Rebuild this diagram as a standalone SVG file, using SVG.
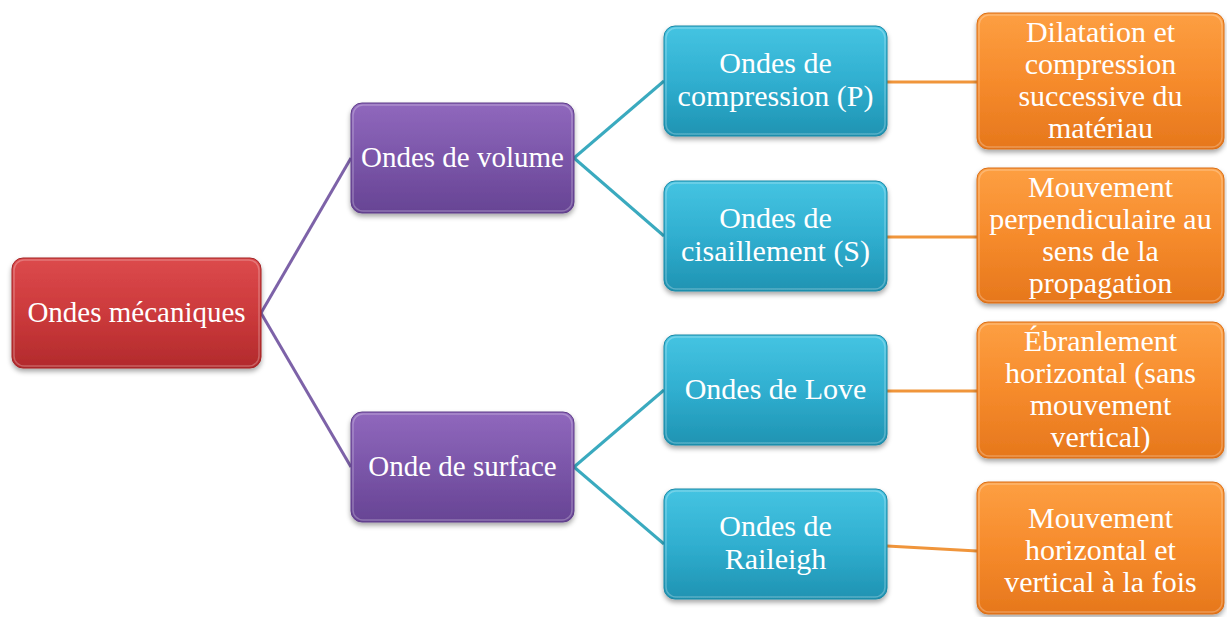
<svg xmlns="http://www.w3.org/2000/svg" width="1227" height="617" viewBox="0 0 1227 617">
<defs>
<linearGradient id="gRed" x1="0" y1="0" x2="0" y2="1"><stop offset="0" stop-color="#dc4a4c"/><stop offset="0.5" stop-color="#cc3a3c"/><stop offset="1" stop-color="#b22a2c"/></linearGradient>
<linearGradient id="gPur" x1="0" y1="0" x2="0" y2="1"><stop offset="0" stop-color="#9068bd"/><stop offset="0.5" stop-color="#7b56a9"/><stop offset="1" stop-color="#674494"/></linearGradient>
<linearGradient id="gCya" x1="0" y1="0" x2="0" y2="1"><stop offset="0" stop-color="#45c4e2"/><stop offset="0.5" stop-color="#30afd0"/><stop offset="1" stop-color="#1f93b2"/></linearGradient>
<linearGradient id="gOra" x1="0" y1="0" x2="0" y2="1"><stop offset="0" stop-color="#fd9f42"/><stop offset="0.5" stop-color="#f68b2c"/><stop offset="1" stop-color="#e6771c"/></linearGradient>
<filter id="sh" x="-10%" y="-10%" width="125%" height="130%"><feDropShadow dx="0" dy="3" stdDeviation="2.5" flood-color="#000" flood-opacity="0.35"/></filter>
</defs>
<style>
.box{filter:url(#sh);}
.r{fill:url(#gRed);stroke:#a32426;stroke-width:1}
.p{fill:url(#gPur);stroke:#5e3d88;stroke-width:1}
.c{fill:url(#gCya);stroke:#1c88a5;stroke-width:1}
.o{fill:url(#gOra);stroke:#d96e18;stroke-width:1}
.hl{fill:none;stroke:#fff;stroke-opacity:0.25;stroke-width:1.5}
text{font-family:"Liberation Serif","Times New Roman",serif;fill:#fff;text-anchor:middle;font-size:30px}
.s29{font-size:29px}
.lp{stroke:#7d62a8;stroke-width:3;fill:none}
.lc{stroke:#3aaabf;stroke-width:3;fill:none}
.lo{stroke:#f0953b;stroke-width:3;fill:none}
</style>
<rect width="1227" height="617" fill="#fff"/>
<g id="connectors">
<line class="lp" x1="261" y1="313" x2="351" y2="158"/>
<line class="lp" x1="261" y1="313" x2="351" y2="467"/>
<line class="lc" x1="574" y1="158" x2="664" y2="81"/>
<line class="lc" x1="574" y1="158" x2="664" y2="236"/>
<line class="lc" x1="574" y1="467" x2="664" y2="390"/>
<line class="lc" x1="574" y1="467" x2="664" y2="544"/>
<line class="lo" x1="887" y1="82" x2="977" y2="82"/>
<line class="lo" x1="887" y1="237" x2="977" y2="237"/>
<line class="lo" x1="887" y1="391" x2="977" y2="391"/>
<line class="lo" x1="887" y1="546" x2="977" y2="551"/>
</g>
<g id="n-ondes-mecaniques"><rect class="box r" x="12" y="258" width="249" height="110" rx="11"/><rect class="hl" x="14" y="260" width="245" height="106" rx="10"/><text class="s29" x="136.5" y="322">Ondes mécaniques</text></g>
<g id="n-ondes-volume"><rect class="box p" x="351" y="103" width="223" height="110" rx="11"/><rect class="hl" x="353" y="105" width="219" height="106" rx="10"/><text class="s29" x="462.5" y="167">Ondes de volume</text></g>
<g id="n-onde-surface"><rect class="box p" x="351" y="412" width="223" height="110" rx="11"/><rect class="hl" x="353" y="414" width="219" height="106" rx="10"/><text class="s29" x="462.5" y="476">Onde de surface</text></g>
<g id="n-compression"><rect class="box c" x="664" y="26" width="223" height="110" rx="11"/><rect class="hl" x="666" y="28" width="219" height="106" rx="10"/><text x="775.5" y="73">Ondes de</text><text x="775.5" y="106">compression (P)</text></g>
<g id="n-cisaillement"><rect class="box c" x="664" y="181" width="223" height="110" rx="11"/><rect class="hl" x="666" y="183" width="219" height="106" rx="10"/><text x="775.5" y="228">Ondes de</text><text x="775.5" y="261">cisaillement (S)</text></g>
<g id="n-love"><rect class="box c" x="664" y="335" width="223" height="110" rx="11"/><rect class="hl" x="666" y="337" width="219" height="106" rx="10"/><text x="775.5" y="399">Ondes de Love</text></g>
<g id="n-raileigh"><rect class="box c" x="664" y="489" width="223" height="110" rx="11"/><rect class="hl" x="666" y="491" width="219" height="106" rx="10"/><text x="775.5" y="536">Ondes de</text><text x="775.5" y="569">Raileigh</text></g>
<g id="n-dilatation"><rect class="box o" x="977" y="13" width="247" height="136" rx="11"/><rect class="hl" x="979" y="15" width="243" height="132" rx="10"/><text x="1100.5" y="42">Dilatation et</text><text x="1100.5" y="74">compression</text><text x="1100.5" y="106">successive du</text><text x="1100.5" y="138">matériau</text></g>
<g id="n-perpendiculaire"><rect class="box o" x="977" y="168" width="247" height="135" rx="11"/><rect class="hl" x="979" y="170" width="243" height="131" rx="10"/><text x="1100.5" y="197">Mouvement</text><text x="1100.5" y="229">perpendiculaire au</text><text x="1100.5" y="261">sens de la</text><text x="1100.5" y="293">propagation</text></g>
<g id="n-ebranlement"><rect class="box o" x="977" y="322" width="247" height="136" rx="11"/><rect class="hl" x="979" y="324" width="243" height="132" rx="10"/><text x="1100.5" y="351">Ébranlement</text><text x="1100.5" y="383">horizontal (sans</text><text x="1100.5" y="415">mouvement</text><text x="1100.5" y="447">vertical)</text></g>
<g id="n-horizontal-vertical"><rect class="box o" x="977" y="482" width="247" height="132" rx="11"/><rect class="hl" x="979" y="484" width="243" height="128" rx="10"/><text x="1100.5" y="528">Mouvement</text><text x="1100.5" y="560">horizontal et</text><text x="1100.5" y="592">vertical à la fois</text></g>
</svg>
